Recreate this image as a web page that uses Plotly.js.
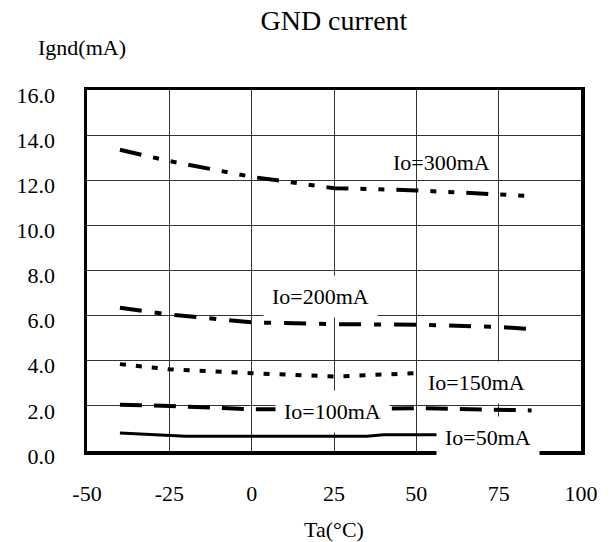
<!DOCTYPE html>
<html><head><meta charset="utf-8">
<script src="https://cdn.plot.ly/plotly-3.0.1.min.js"></script>
<style>html,body{margin:0;padding:0;background:#fff}#chart{width:615px;height:542px}</style>
</head><body><div id="chart"></div>
<script>
// Data
const temps = [-40, -25, 0, 25, 50, 75, 85];
const io300 = [13.35, 12.85, 12.15, 11.65, 11.55, 11.4, 11.3];
const io200 = [6.35, 6.05, 5.7, 5.62, 5.6, 5.5, 5.4];
const io150 = [3.85, 3.62, 3.45, 3.3, 3.45, 3.45, 3.45];
const io100 = [2.05, 2.0, 1.85, 1.85, 1.9, 1.85, 1.8];
const temps50 = [-40, -20, 35, 40, 85];
const io50 = [0.8, 0.65, 0.65, 0.72, 0.72];
const seriesLabels = ["Io=300mA", "Io=200mA", "Io=150mA", "Io=100mA", "Io=50mA"];
const xTickVals = [-50, -25, 0, 25, 50, 75, 100];
const xTickText = ["-50", "-25", "0", "25", "50", "75", "100"];
const yTickVals = [0, 2, 4, 6, 8, 10, 12, 14, 16];
const yTickText = ["0.0", "2.0", "4.0", "6.0", "8.0", "10.0", "12.0", "14.0", "16.0"];

const FONT = "Liberation Serif";
const FS = 22;
const ln = (dash, w) => ({color: "#000", width: w, dash: dash});

const traces = [
  {x: temps, y: io300, name: seriesLabels[0], mode: "lines", line: ln("22px,12px,6px,12px,6px,12px", 4)},
  {x: temps, y: io200, name: seriesLabels[1], mode: "lines", line: ln("22px,13px,7px,13px", 4)},
  {x: temps, y: io150, name: seriesLabels[2], mode: "lines", line: ln("6px,10px", 4)},
  {x: temps, y: io100, name: seriesLabels[3], mode: "lines", line: ln("22px,12px", 4)},
  {x: temps50, y: io50, name: seriesLabels[4], mode: "lines", line: ln("solid", 3)}
];

const lblPos = [
  {x: 57.5, y: 12.8, bg: "rgba(0,0,0,0)"},
  {x: 21.0, y: 6.85, bg: "#fff"},
  {x: 68.4, y: 3.02, bg: "#fff"},
  {x: 24.5, y: 1.75, bg: "#fff"},
  {x: 71.9, y: 0.6, bg: "#fff"}
];
const annotations = seriesLabels.map((t, i) => ({
  x: lblPos[i].x, y: lblPos[i].y, xref: "x", yref: "y", text: t, showarrow: false,
  font: {family: FONT, size: FS, color: "#000"}, bgcolor: lblPos[i].bg, borderpad: 8
}));
annotations.push({
  x: (82 - 87) / (615 - 87 - 34), y: (542 - 91 - 47) / (542 - 90 - 91),
  xref: "paper", yref: "paper", xanchor: "center", yanchor: "middle",
  text: "Ignd(mA)", showarrow: false,
  font: {family: FONT, size: FS, color: "#000"}
});

const layout = {
  width: 615, height: 542,
  margin: {l: 87, r: 34, t: 90, b: 91},
  paper_bgcolor: "#fff", plot_bgcolor: "#fff",
  showlegend: false,
  title: {text: "GND current", font: {family: FONT, size: 28, color: "#000"}, x: 0.543, xanchor: "center", y: 0.962, yanchor: "middle"},
  xaxis: {
    range: [-50, 100], tickvals: xTickVals, ticktext: xTickText, ticks: "", ticklabelstandoff: 20,
    showgrid: true, gridcolor: "#333", gridwidth: 1, zeroline: false,
    showline: true, linecolor: "#000", linewidth: 3.5, mirror: true,
    tickfont: {family: FONT, size: FS, color: "#000"},
    title: {text: "Ta(°C)", font: {family: FONT, size: FS, color: "#000"}, standoff: 24}
  },
  yaxis: {
    range: [0, 16], tickvals: yTickVals, ticktext: yTickText, ticks: "", ticklabelstandoff: 24, ticklabelshift: 5,
    showgrid: true, gridcolor: "#333", gridwidth: 1, zeroline: false,
    showline: true, linecolor: "#000", linewidth: 3.5, mirror: true,
    tickfont: {family: FONT, size: FS, color: "#000"}
  },
  annotations: annotations
};

Plotly.newPlot("chart", traces, layout, {displayModeBar: false, staticPlot: true});
</script></body></html>
